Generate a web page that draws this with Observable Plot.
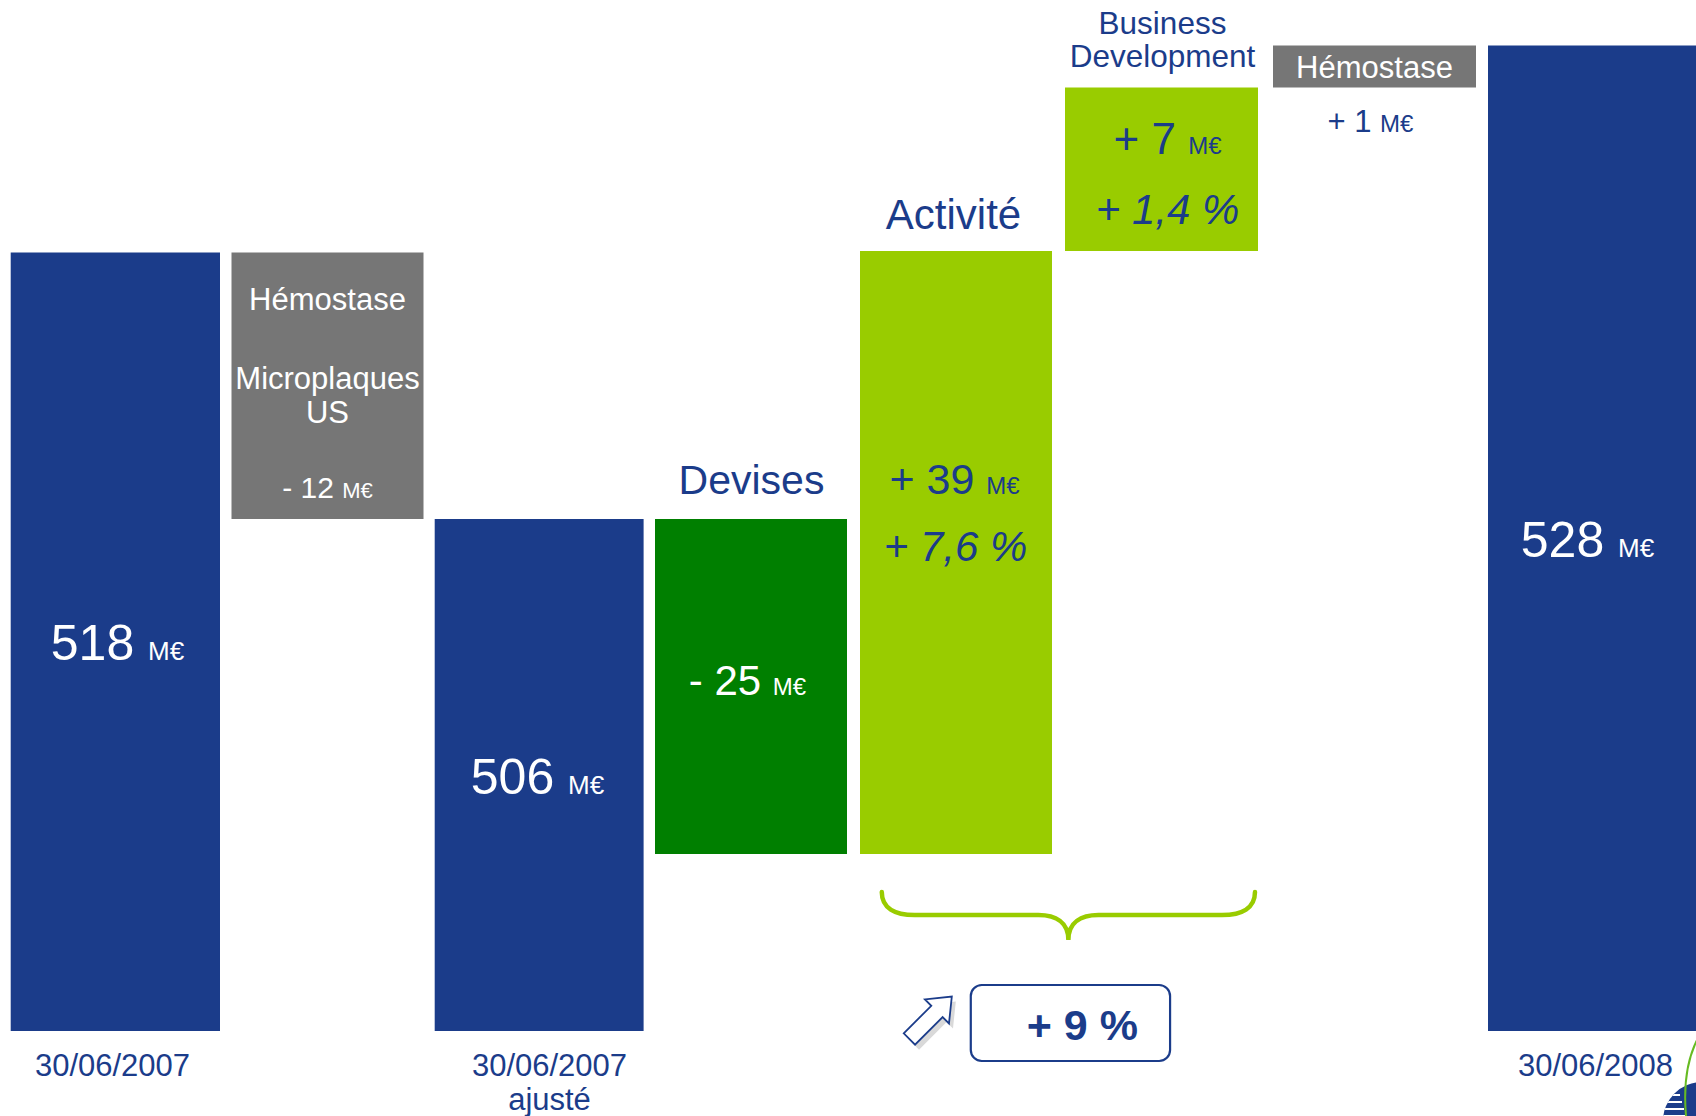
<!DOCTYPE html>
<html><head><meta charset="utf-8">
<script src="https://cdn.jsdelivr.net/npm/d3@7"></script>
<script src="https://cdn.jsdelivr.net/npm/@observablehq/plot@0.6"></script>
<style>html,body{margin:0;padding:0;background:#fff;overflow:hidden}</style>
</head><body><div id="chart"></div>
<script>
// ---- data ----
const steps = ["30/06/2007", "Hémostase\nMicroplaques\nUS", "30/06/2007\najusté", "Devises", "Activité", "Business\nDevelopment", "Hémostase", "30/06/2008"];
const kinds = ["total", "delta", "total", "delta", "delta", "delta", "delta", "total"];
const groups = ["total", "périmètre", "total", "devises", "organique", "organique", "périmètre", "total"];
const values = [518, -12, 506, -25, 39, 7, 1, 528];
const percents = [null, null, null, null, 7.6, 1.4, null, null];
const growth = 9;
const unit = "M€";

// ---- styles ----
const BLUE = "#1B3C8A";
const fillOf = {total: "#1B3C8A", "périmètre": "#767676", devises: "#007F00", organique: "#99CC00"};
const FONT = "'Liberation Sans', Arial, sans-serif";

// ---- waterfall table ----
let run = 0;
const rows = steps.map((step, i) => {
  const v = values[i];
  let y1, y2;
  if (kinds[i] === "total") { y1 = 0; y2 = v; run = v; }
  else { y1 = run; y2 = run + v; run = y2; }
  return {step, i, kind: kinds[i], group: groups[i], value: v, pct: percents[i], y1, y2, lo: Math.min(y1, y2), hi: Math.max(y1, y2)};
});
const R = name => rows.filter(d => d.step === name);
const totals = rows.filter(d => d.kind === "total");

// stylised (broken) value axis: piecewise scale through the running levels
const levels = Array.from(new Set(rows.flatMap(d => [d.y1, d.y2]))).sort((a, b) => a - b);
const xOpts = {type: "band", domain: steps, range: [11.35, 1692.2], padding: 0};
const yOpts = {type: "linear", domain: levels, range: [1031, 854, 519, 252.5, 251, 87.5, 45.5]};
const xs = Plot.scale({x: xOpts});
const ys = Plot.scale({y: yOpts});
const mid = d => ys.invert((ys.apply(d.y1) + ys.apply(d.y2)) / 2);

const signed = v => (v < 0 ? "- " : "+ ") + Math.abs(v);
const pctFmt = v => "+ " + String(v).replace(".", ",") + " %";
const amount = d => `${signed(d.value)} ${unit}`;

const bar = (name, l, r) => Plot.barY(R(name), {x: "step", y1: "y1", y2: "y2", fill: d => fillOf[d.group], insetLeft: l, insetRight: r});
const dateLabel = (name, dx) => Plot.text(R(name), {x: "step", y: "y1", text: "step", fill: BLUE, fontSize: 31, lineAnchor: "top", lineHeight: 1.1, dy: 20, dx});

function decor() {
  const g = d3.create("svg:g");
  const bw = xs.bandwidth;
  const L = xs.apply("Activité") + 30;
  const Rr = xs.apply("Business\nDevelopment") + bw - 17;
  const cx = (L + Rr) / 2;
  const yb = ys.apply(d3.min(R("Activité"), d => d.lo));
  const top = yb + 38, m = yb + 61, tip = yb + 86;
  g.append("path")
    .attr("d", `M${L},${top} C${L},${top + 16} ${L + 13},${m} ${L + 33},${m} L${cx - 30},${m} C${cx - 13},${m} ${cx},${m + 7} ${cx},${tip} C${cx},${m + 7} ${cx + 13},${m} ${cx + 30},${m} L${Rr - 33},${m} C${Rr - 13},${m} ${Rr},${top + 16} ${Rr},${top}`)
    .attr("fill", "none").attr("stroke", "#99CC00").attr("stroke-width", 4.5).attr("stroke-linecap", "round");
  const y0 = ys.apply(0);
  // box with total organic growth
  g.append("rect").attr("x", cx - 97.6).attr("y", y0 - 46).attr("width", 199.3).attr("height", 76)
    .attr("rx", 11).attr("fill", "#fff").attr("stroke", BLUE).attr("stroke-width", 2.2);
  g.append("text").attr("x", cx + 14).attr("y", y0 + 9).attr("text-anchor", "middle")
    .attr("font-size", 43).attr("font-weight", "bold").attr("fill", BLUE).text(`+ ${growth} %`);
  // outlined arrow
  const Lh = 60, w = 8, H = 17, h = 21;
  const pts = [[0, -w], [Lh - h, -w], [Lh - h, -H], [Lh, 0], [Lh - h, H], [Lh - h, w], [0, w]].map(p => p.join(",")).join(" ");
  g.append("polygon").attr("points", pts).attr("fill", "#d9d9d9")
    .attr("transform", `translate(${cx - 159 + 4},${y0 + 8 + 5}) rotate(-45)`);
  g.append("polygon").attr("points", pts).attr("fill", "#fff").attr("stroke", BLUE).attr("stroke-width", 1.8)
    .attr("transform", `translate(${cx - 159},${y0 + 8}) rotate(-45)`);
  // corner logo (partly visible)
  const defs = g.append("defs");
  defs.append("clipPath").attr("id", "logo-clip").append("circle").attr("cx", 1702).attr("cy", 1121).attr("r", 39);
  g.append("circle").attr("cx", 1702).attr("cy", 1121).attr("r", 39).attr("fill", BLUE);
  const lg = g.append("g").attr("clip-path", "url(#logo-clip)");
  [1088, 1095, 1102, 1109, 1116].forEach((yy, k) => {
    lg.append("line").attr("x1", 1660).attr("x2", 1678 + k * 2).attr("y1", yy).attr("y2", yy)
      .attr("stroke", "#fff").attr("stroke-width", 2.2);
  });
  g.append("path").attr("d", "M1697,1040 Q1682,1070 1686,1116").attr("fill", "none")
    .attr("stroke", "#66BB22").attr("stroke-width", 2);
  return g.node();
}

const svg = Plot.plot({
  width: 1696, height: 1116,
  marginTop: 0, marginRight: 0, marginBottom: 0, marginLeft: 0,
  style: {fontFamily: FONT, background: "#fff"},
  x: {...xOpts, axis: null},
  y: {...yOpts, axis: null},
  color: {type: "identity"},
  marks: [
    // bars
    bar("30/06/2007", -1.3, 2),
    bar("Hémostase\nMicroplaques\nUS", 9.5, 8.5),
    bar("30/06/2007\najusté", 2.7, -1.6),
    bar("Devises", 13, 5),
    bar("Activité", 8, 10),
    bar("Business\nDevelopment", 3, 14),
    bar("Hémostase", 1, 6),
    bar("30/06/2008", 6, -10),

    // totals
    Plot.text(totals, {x: "step", y: mid, text: d => `${d.value} ${unit}`, fill: "white", fontSize: 50, lineAnchor: "bottom", dy: 18}),
    dateLabel("30/06/2007", -5),
    dateLabel("30/06/2007\najusté", 12),
    dateLabel("30/06/2008", 8),

    // perimeter: Hémostase Microplaques US
    Plot.text(R("Hémostase\nMicroplaques\nUS"), {x: "step", y: "hi", text: d => d.step.split("\n")[0], fill: "white", fontSize: 31, lineAnchor: "bottom", dy: 57}),
    Plot.text(R("Hémostase\nMicroplaques\nUS"), {x: "step", y: "hi", text: d => d.step.split("\n").slice(1).join("\n"), fill: "white", fontSize: 31, lineHeight: 1.1, lineAnchor: "bottom", dy: 170}),
    Plot.text(R("Hémostase\nMicroplaques\nUS"), {x: "step", y: "hi", text: amount, fill: "white", fontSize: 30, lineAnchor: "bottom", dy: 245}),

    // currency
    Plot.text(R("Devises"), {x: "step", y: "hi", text: "step", fill: BLUE, fontSize: 41, lineAnchor: "bottom", dy: -26, dx: 4}),
    Plot.text(R("Devises"), {x: "step", y: mid, text: amount, fill: "white", fontSize: 42, lineAnchor: "bottom", dy: 7.5}),

    // activity
    Plot.text(R("Activité"), {x: "step", y: "hi", text: "step", fill: BLUE, fontSize: 42, lineAnchor: "bottom", dy: -23, dx: -4}),
    Plot.text(R("Activité"), {x: "step", y: "hi", text: amount, fill: BLUE, fontSize: 43, lineAnchor: "bottom", dy: 242, dx: -3}),
    Plot.text(R("Activité"), {x: "step", y: "hi", text: d => pctFmt(d.pct), fill: BLUE, fontSize: 42, fontStyle: "italic", lineAnchor: "bottom", dy: 309, dx: -2}),

    // business development
    Plot.text(R("Business\nDevelopment"), {x: "step", y: "hi", text: "step", fill: BLUE, fontSize: 31.5, lineHeight: 1.05, lineAnchor: "bottom", dy: -21, dx: -5}),
    Plot.text(R("Business\nDevelopment"), {x: "step", y: "hi", text: amount, fill: BLUE, fontSize: 44, lineAnchor: "bottom", dy: 66}),
    Plot.text(R("Business\nDevelopment"), {x: "step", y: "hi", text: d => pctFmt(d.pct), fill: BLUE, fontSize: 42, fontStyle: "italic", lineAnchor: "bottom", dy: 136}),

    // perimeter: Hémostase (+1)
    Plot.text(R("Hémostase"), {x: "step", y: "hi", text: "step", fill: "white", fontSize: 31, lineAnchor: "bottom", dy: 32, dx: -3}),
    Plot.text(R("Hémostase"), {x: "step", y: "lo", text: amount, fill: BLUE, fontSize: 31, lineAnchor: "bottom", dy: 44, dx: -7}),

    decor
  ]
});

// smaller "M€" unit inside the value labels
const unitSize = {50: 26, 43: 24, 42: 24, 44: 24, 30: 22, 31: 24};
svg.querySelectorAll("text").forEach(t => {
  if (t.children.length) return;
  const m = /^(.*) M€$/.exec(t.textContent);
  if (!m) return;
  const holder = t.closest("[font-size]");
  const fs = holder ? parseFloat(holder.getAttribute("font-size")) : 30;
  t.textContent = m[1] + " ";
  const ts = document.createElementNS("http://www.w3.org/2000/svg", "tspan");
  ts.setAttribute("font-size", unitSize[fs] || Math.round(fs * 0.55));
  ts.textContent = unit;
  t.appendChild(ts);
});

document.getElementById("chart").appendChild(svg);
</script>
</body></html>
